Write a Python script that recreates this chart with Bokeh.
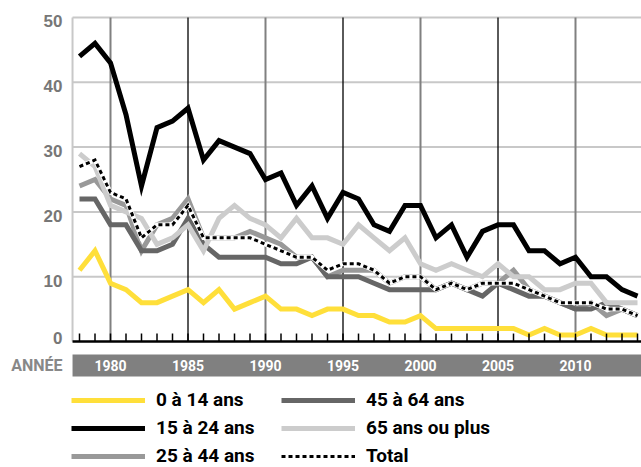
from bokeh.plotting import figure
from bokeh.models import Range1d, BoxAnnotation, Legend, LegendItem
from bokeh.core.properties import value
from bokeh.embed import file_html
from bokeh.resources import INLINE

years = list(range(1978, 2015))
age_0_14 = [11, 14, 9, 8, 6, 6, 7, 8, 6, 8, 5, 6, 7, 5, 5, 4, 5, 5, 4, 4, 3, 3, 4, 2, 2, 2, 2, 2, 2, 1, 2, 1, 1, 2, 1, 1, 1]
age_15_24 = [44, 46, 43, 35, 24, 33, 34, 36, 28, 31, 30, 29, 25, 26, 21, 24, 19, 23, 22, 18, 17, 21, 21, 16, 18, 13, 17, 18, 18, 14, 14, 12, 13, 10, 10, 8, 7]
age_25_44 = [24, 25, 22, 21, 14, 18, 19, 22, 16, 16, 16, 17, 16, 15, 13, 13, 10, 11, 11, 11, 9, 10, 10, 8, 9, 8, 9, 9, 11, 8, 7, 6, 5, 6, 4, 5, 4]
age_45_64 = [22, 22, 18, 18, 14, 14, 15, 19, 15, 13, 13, 13, 13, 12, 12, 13, 10, 10, 10, 9, 8, 8, 8, 8, 9, 8, 7, 9, 8, 7, 7, 6, 5, 5, 6, 5, 4]
age_65_plus = [29, 27, 21, 20, 19, 15, 16, 18, 14, 19, 21, 19, 18, 16, 19, 16, 16, 15, 18, 16, 14, 16, 12, 11, 12, 11, 10, 12, 10, 10, 8, 8, 9, 9, 6, 6, 6]
total = [27, 28, 23, 22, 16, 18, 18, 21, 16, 16, 16, 16, 15, 14, 13, 13, 11, 12, 12, 11, 9, 10, 10, 8, 9, 8, 9, 9, 9, 8, 7, 6, 6, 6, 5, 5, 4]

series_labels = ["0 à 14 ans", "15 à 24 ans", "25 à 44 ans", "45 à 64 ans", "65 ans ou plus", "Total"]
y_ticks = [0, 10, 20, 30, 40, 50]
y_tick_labels = ["0", "10", "20", "30", "40", "50"]
decades = [1980, 1985, 1990, 1995, 2000, 2005, 2010]
decade_labels = ["1980", "1985", "1990", "1995", "2000", "2005", "2010"]
decade_colors = ["#808080", "#000000", "#808080", "#000000", "#808080", "#000000", "#808080"]
decade_widths = [2, 1.3, 2, 1.3, 2, 1.3, 2]
axis_title = "ANNÉE"

W, H = 641, 467
x_start, x_end = 1972.903, 2014.258      # full canvas in year units
y_lo, y_hi = -19.44, 52.62               # full canvas in value units
frame_left = 1977.55                     # left edge of the plotting grid
label_x = 1976.9                         # right edge of the y labels
band_top, band_bottom, band_mid = -2.0, -5.4, -3.7

p = figure(width=W, height=H, output_backend="svg", toolbar_location=None,
           x_range=Range1d(x_start, x_end), y_range=Range1d(y_lo, y_hi),
           min_border=0, x_axis_location=None, y_axis_location=None)
p.outline_line_color = None
p.grid.visible = False

# horizontal grid lines
gy = y_ticks[1:]
p.segment(x0=[frame_left] * len(gy), y0=gy, x1=[x_end] * len(gy), y1=gy,
          line_color="#c8c8c8", line_width=2)
# left frame line
p.segment(x0=[frame_left], y0=[y_ticks[0]], x1=[frame_left], y1=[y_ticks[-1]],
          line_color="#c8c8c8", line_width=2)
# decade lines
p.segment(x0=decades, y0=[y_ticks[0]] * len(decades), x1=decades, y1=[y_ticks[-1]] * len(decades),
          line_color=decade_colors, line_width=decade_widths)

# y tick labels
p.text(x=[label_x] * len(y_ticks), y=y_ticks, text=y_tick_labels,
       y_offset=[-4, 4, 4, 4, 4, 4],
       text_color="#777777", text_font=value("Liberation Sans"), text_font_style="bold",
       text_font_size="17px", text_align="right", text_baseline="middle")

# band with years
band = BoxAnnotation(left=frame_left, top=band_top, bottom=band_bottom, fill_color="#808080",
                     fill_alpha=1, line_color=None, level="underlay")
p.add_layout(band)
p.text(x=decades, y=[band_mid] * len(decades), text=decade_labels, text_color="white",
       text_font=value("Roboto"), text_font_style="bold", text_font_size="14px",
       text_align="center", text_baseline="middle")
p.text(x=[label_x], y=[band_mid], text=[axis_title], text_color="#888888",
       text_font=value("Roboto"), text_font_style="bold", text_font_size="16px",
       text_align="right", text_baseline="middle")

lw = 5
r1 = p.line(years, age_0_14, line_color="#FFDF3A", line_width=lw, line_join="miter")
r2 = p.line(years, age_15_24, line_color="#000000", line_width=lw, line_join="miter")
r3 = p.line(years, age_25_44, line_color="#999999", line_width=lw, line_join="miter")
r4 = p.line(years, age_45_64, line_color="#666666", line_width=lw, line_join="miter")
r5 = p.line(years, age_65_plus, line_color="#cccccc", line_width=lw, line_join="miter")
p.line(years, total, line_color="white", line_width=4.5, line_join="miter")
r6 = p.line(years, total, line_color="#000000", line_width=3, line_dash="4 3", line_join="miter")

# x axis line and year ticks
p.segment(x0=[frame_left], y0=[0], x1=[x_end], y1=[0], line_color="black", line_width=2.5)
p.segment(x0=years, y0=[0] * len(years), x1=years, y1=[1.23] * len(years),
          line_color="black", line_width=1.5)

legend = Legend(items=[LegendItem(label=l, renderers=[r]) for l, r in
                       zip(series_labels, [r1, r2, r3, r4, r5, r6])],
                location=(71, 0), orientation="vertical", nrows=3,
                glyph_width=74, glyph_height=20, label_height=20, label_width=120,
                label_standoff=11, spacing=5, padding=0, margin=0,
                border_line_color=None, background_fill_alpha=0,
                label_text_font="Roboto", label_text_font_size="19px",
                label_text_font_style="bold", label_text_color="black")
p.add_layout(legend)

open("out.html", "w").write(file_html(p, INLINE))
